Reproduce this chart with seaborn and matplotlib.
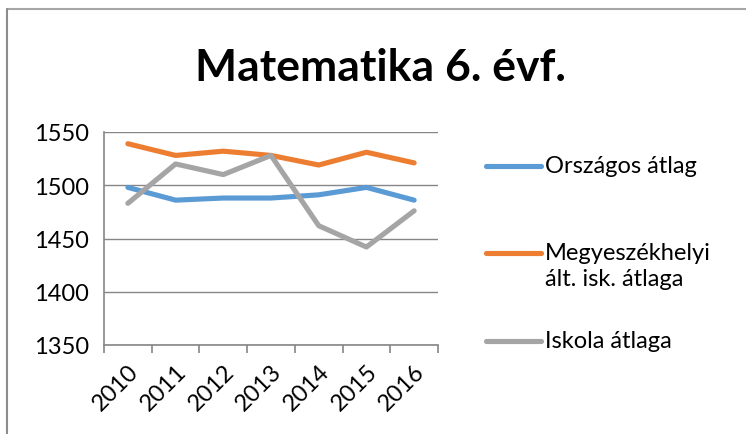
import numpy as np
import pandas as pd
import matplotlib
matplotlib.use("Agg")
import matplotlib.pyplot as plt
import seaborn as sns
from matplotlib.lines import Line2D
from matplotlib.ticker import FixedLocator

# Data
years = ["2010", "2011", "2012", "2013", "2014", "2015", "2016"]
orszagos = [1498, 1486, 1488, 1488, 1491, 1498, 1486]
megyeszekhelyi = [1539, 1528, 1532, 1528, 1519, 1531, 1521]
iskola = [1483, 1520, 1510, 1528, 1462, 1442, 1476]
series_names = ["Országos átlag", "Megyeszékhelyi\nált. isk. átlaga", "Iskola átlaga"]
colors = ["#5B9BD5", "#ED7D31", "#A5A5A5"]
yticks = [1350, 1400, 1450, 1500, 1550]

df = pd.DataFrame({
    "pos": list(range(len(years))) * 3,
    "value": orszagos + megyeszekhelyi + iskola,
    "series": [s for s in series_names for _ in years],
})

sns.set_style("white")
plt.rcParams["font.family"] = ["Lato", "DejaVu Sans"]
plt.rcParams["text.color"] = "black"
plt.rcParams["xtick.color"] = "black"
plt.rcParams["ytick.color"] = "black"

W, H = 746, 435
fig = plt.figure(figsize=(W / 100, H / 100), dpi=100)
ax = fig.add_axes([104 / W, (H - 346) / H, (438 - 104) / W, (346 - 133) / H])

sns.lineplot(data=df, x="pos", y="value", hue="series", palette=colors,
             linewidth=3.7, ax=ax, legend=False, sort=False)

ax.set_xlim(-0.5, len(years) - 0.5)
ax.set_ylim(1350, 1550)
ax.set_yticks(yticks)
ax.set_yticklabels([str(v) for v in yticks], fontsize=17)
ax.set_xticks(range(len(years)))
ax.set_xticklabels(years, fontsize=17, rotation=45, ha="right",
                   rotation_mode="anchor")
ax.xaxis.set_minor_locator(FixedLocator(np.arange(-0.5, len(years), 1)))
ax.tick_params(axis="x", which="major", length=0, pad=11)
ax.tick_params(axis="x", which="minor", length=6, width=1.2, color="#868686",
               direction="out", bottom=True)
ax.tick_params(axis="y", length=0, pad=11)
ax.grid(axis="y", color="#868686", linewidth=1.0)
ax.set_axisbelow(True)
ax.set_xlabel("")
ax.set_ylabel("")
for side in ["top", "right"]:
    ax.spines[side].set_visible(False)
for side in ["left", "bottom"]:
    ax.spines[side].set_color("#868686")
    ax.spines[side].set_linewidth(1.2)

fig.text(380 / W, 1 - 68 / H, "Matematika 6. évf.", fontsize=32,
         fontweight="bold", ha="center", va="center")

# legend drawn by hand, Excel-style
leg_y = [167, 254, 342]
for name, col, y in zip(series_names, colors, leg_y):
    fig.add_artist(Line2D([486 / W, 541 / W], [1 - y / H, 1 - y / H],
                          color=col, linewidth=3.7, solid_capstyle="round"))
    fig.text(545 / W, 1 - (y - 11) / H, name, fontsize=17, ha="left",
             va="top", linespacing=1.3)

# outer chart border (top and left visible)
fig.add_artist(Line2D([7 / W, 1], [1 - 10 / H, 1 - 10 / H], color="#a6a6a6",
                      linewidth=1.5))
fig.add_artist(Line2D([7 / W, 7 / W], [0, 1 - 10 / H], color="#8c8c8c",
                      linewidth=1.5))

fig.savefig("out.png", dpi=100)
